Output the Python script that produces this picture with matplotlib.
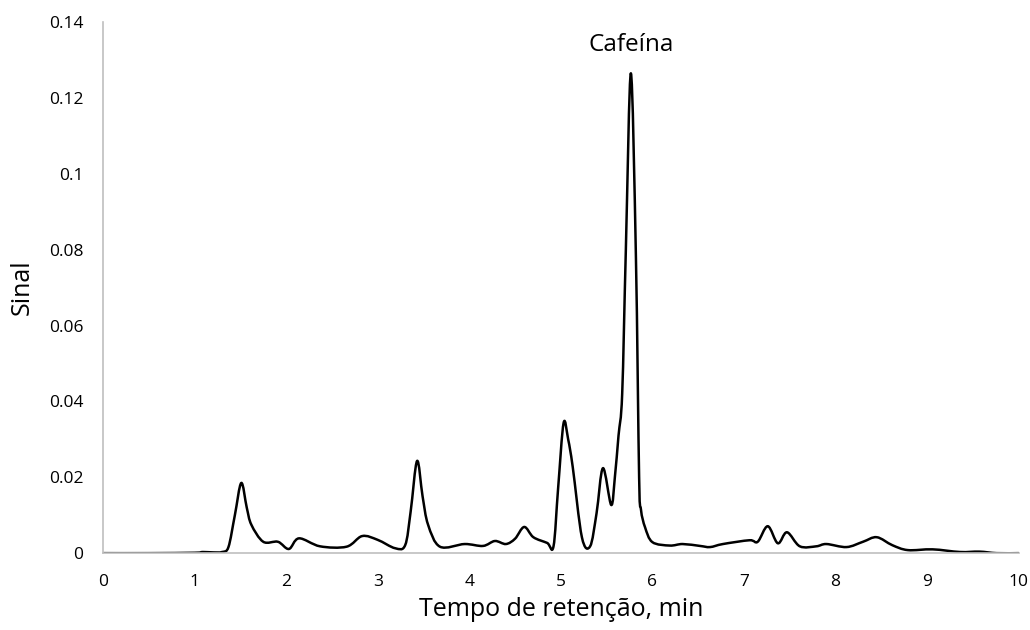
import numpy as np
import matplotlib.pyplot as plt
from matplotlib.path import Path
from matplotlib.patches import PathPatch

# Cromatograma: tempo de retenção (min) e sinal lido
tempo = [0.0, 0.5, 1.0, 1.09, 1.2, 1.3, 1.37, 1.44, 1.51, 1.57, 1.62, 1.75, 1.91, 2.03,
         2.14, 2.37, 2.66, 2.83, 3.0, 3.19, 3.30, 3.36, 3.43, 3.49, 3.55, 3.68, 3.95, 4.15,
         4.28, 4.40, 4.50, 4.60, 4.70, 4.85, 4.92, 4.97, 5.03, 5.08, 5.13, 5.23, 5.32,
         5.39, 5.46, 5.55, 5.59, 5.63, 5.67, 5.71, 5.765, 5.82, 5.855, 5.875, 5.92, 6.0,
         6.19, 6.33, 6.52, 6.63, 6.77, 7.06, 7.15, 7.26, 7.37, 7.47, 7.61, 7.79, 7.90,
         8.12, 8.30, 8.45, 8.62, 8.79, 9.06, 9.36, 9.57, 9.76, 10.0]
sinal = [0.0, 0.0, 0.0001, 0.0003, 0.0002, 0.0003, 0.0016, 0.0100, 0.0185, 0.0120, 0.0075, 0.0030, 0.0030, 0.0011,
         0.0039, 0.0018, 0.0017, 0.0045, 0.0035, 0.0013, 0.0021, 0.0110, 0.0243, 0.0150, 0.0075, 0.0017, 0.0024, 0.0019,
         0.0032, 0.0024, 0.0038, 0.0069, 0.0042, 0.0027, 0.0018, 0.0170, 0.0343, 0.0300, 0.0227, 0.0042, 0.0018,
         0.0105, 0.0224, 0.0127, 0.0200, 0.0310, 0.0420, 0.0800, 0.1265, 0.0780, 0.0200, 0.0115, 0.0068, 0.0029,
         0.0020, 0.0024, 0.0019, 0.0016, 0.0024, 0.0034, 0.0030, 0.0071, 0.0026, 0.0055, 0.0018, 0.0018, 0.0024,
         0.0016, 0.0030, 0.0042, 0.0021, 0.0008, 0.0010, 0.0003, 0.0004, 0.0000, 0.0000]

x_ticks = list(range(0, 11))
y_ticks = [0, 0.02, 0.04, 0.06, 0.08, 0.1, 0.12, 0.14]
y_tick_labels = ["0", "0.02", "0.04", "0.06", "0.08", "0.1", "0.12", "0.14"]


def smooth_path(xs, ys, t=1.0 / 6):
    # linha suavizada (Catmull-Rom em curvas de Bezier cúbicas)
    pts = np.column_stack([xs, ys])
    verts = [pts[0]]
    codes = [Path.MOVETO]
    n = len(pts)
    for i in range(n - 1):
        p0 = pts[max(i - 1, 0)]
        p1 = pts[i]
        p2 = pts[i + 1]
        p3 = pts[min(i + 2, n - 1)]
        c1 = p1 + (p2 - p0) * t
        c2 = p2 - (p3 - p1) * t
        verts += [c1, c2, p2]
        codes += [Path.CURVE4] * 3
    return Path(verts, codes)


plt.rcParams['font.family'] = ['Open Sans', 'DejaVu Sans']

fig = plt.figure(figsize=(10.3, 6.3), dpi=100)
ax = fig.add_axes([0.1, 0.122, 0.889, 0.843])

ax.add_patch(PathPatch(smooth_path(tempo, sinal), facecolor='none',
                       edgecolor='black', lw=1.8, capstyle='round', joinstyle='round'))

ax.set_xlim(0, 10)
ax.set_ylim(0, 0.14)
ax.set_xticks(x_ticks)
ax.set_yticks(y_ticks)
ax.set_yticklabels(y_tick_labels)
ax.tick_params(length=0, labelsize=12.5, colors='black')
ax.tick_params(axis='x', pad=15)
ax.tick_params(axis='y', pad=14)

for side in ['top', 'right']:
    ax.spines[side].set_visible(False)
for side in ['left', 'bottom']:
    ax.spines[side].set_color('#bfbfbf')
    ax.spines[side].set_linewidth(1.2)

ax.set_xlabel('Tempo de retenção, min', fontsize=18, labelpad=5)
ax.set_ylabel('Sinal', fontsize=18, labelpad=10)

ax.text(5.77, 0.134, 'Cafeína', ha='center', va='center', fontsize=17.5)

fig.savefig('out.png', dpi=100)
